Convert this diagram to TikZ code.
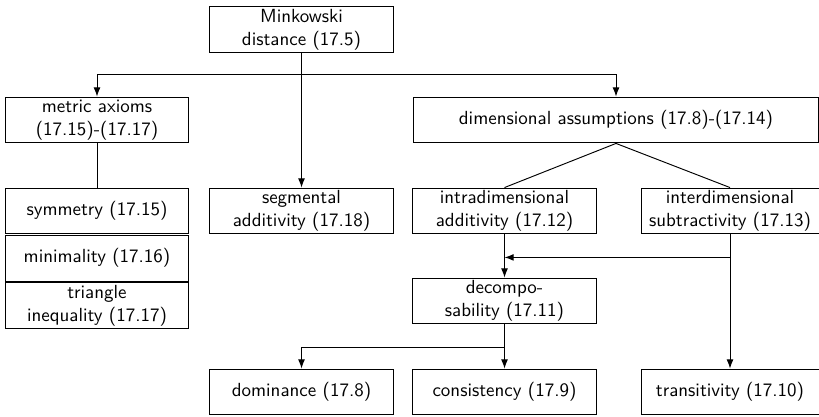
\documentclass[tikz,border=0pt]{standalone}
\usetikzlibrary{arrows.meta,positioning,calc}
\tikzset{
 box/.style={draw, align=center, font=\sffamily, minimum width=96.5pt, minimum height=24.2pt, inner sep=1pt},
 wide/.style={minimum width=213.4pt},
 narrow/.style={minimum width=93.8pt},
 arr/.style={-{Latex[length=4.8pt,width=3.6pt]}},
}
\begin{document}
\begin{tikzpicture}[x=0.527pt,y=0.527pt,line width=0.5pt]
 \useasboundingbox (0,0) rectangle (819,-417);
 % top levels
 \node[box] (mink) at (301.5,-29.5) {Minkowski\\distance (17.5)};
 \node[box] (metric) at (97,-120) {metric axioms\\(17.15)-(17.17)};
 \node[box,wide] (dim) at (616,-120) {dimensional assumptions (17.8)-(17.14)};
 \node[box] (segm) at (301.5,-211) {segmental\\additivity (17.18)};
 \node[box] (intra) at (504.5,-211) {intradimensional\\additivity (17.12)};
 \node[box,narrow] (inter) at (730,-211) {interdimensional\\subtractivity (17.13)};
 % axioms stack
 \node[box] (sym) at (97,-211) {symmetry (17.15)};
 \node[box,below=0.2pt of sym] (mini) {minimality (17.16)};
 \node[box,below=0.2pt of mini] (tri) {triangle\\inequality (17.17)};
 % lower levels
 \node[box] (decomp) at (504.5,-301) {decompo-\\sability (17.11)};
 \node[box] (dom) at (301.5,-392) {dominance (17.8)};
 \node[box] (cons) at (504.5,-392) {consistency (17.9)};
 \node[box,narrow] (trans) at (730,-392) {transitivity (17.10)};
 % connectors
 \coordinate (split) at ($(mink.south)+(0,-22)$);
 \draw[arr] (mink) -- (segm);
 \draw[arr] (split) -| (metric);
 \draw[arr] (split) -| (dim);
 \draw (metric) -- (sym);
 \draw (dim.south) -- (intra.north);
 \draw (dim.south) -- (inter.north);
 \draw[arr] (intra) -- (decomp);
 \draw[arr] (inter) -- (trans);
 \coordinate (join) at ($(inter.south)+(0,-23)$);
 \coordinate (merge) at (intra.south |- join);
 \draw[arr] (join) -- (merge);
 \coordinate (fork) at ($(decomp.south)+(0,-23)$);
 \draw[arr] (decomp) -- (cons);
 \draw[arr] (fork) -| (dom);
\end{tikzpicture}
\end{document}
